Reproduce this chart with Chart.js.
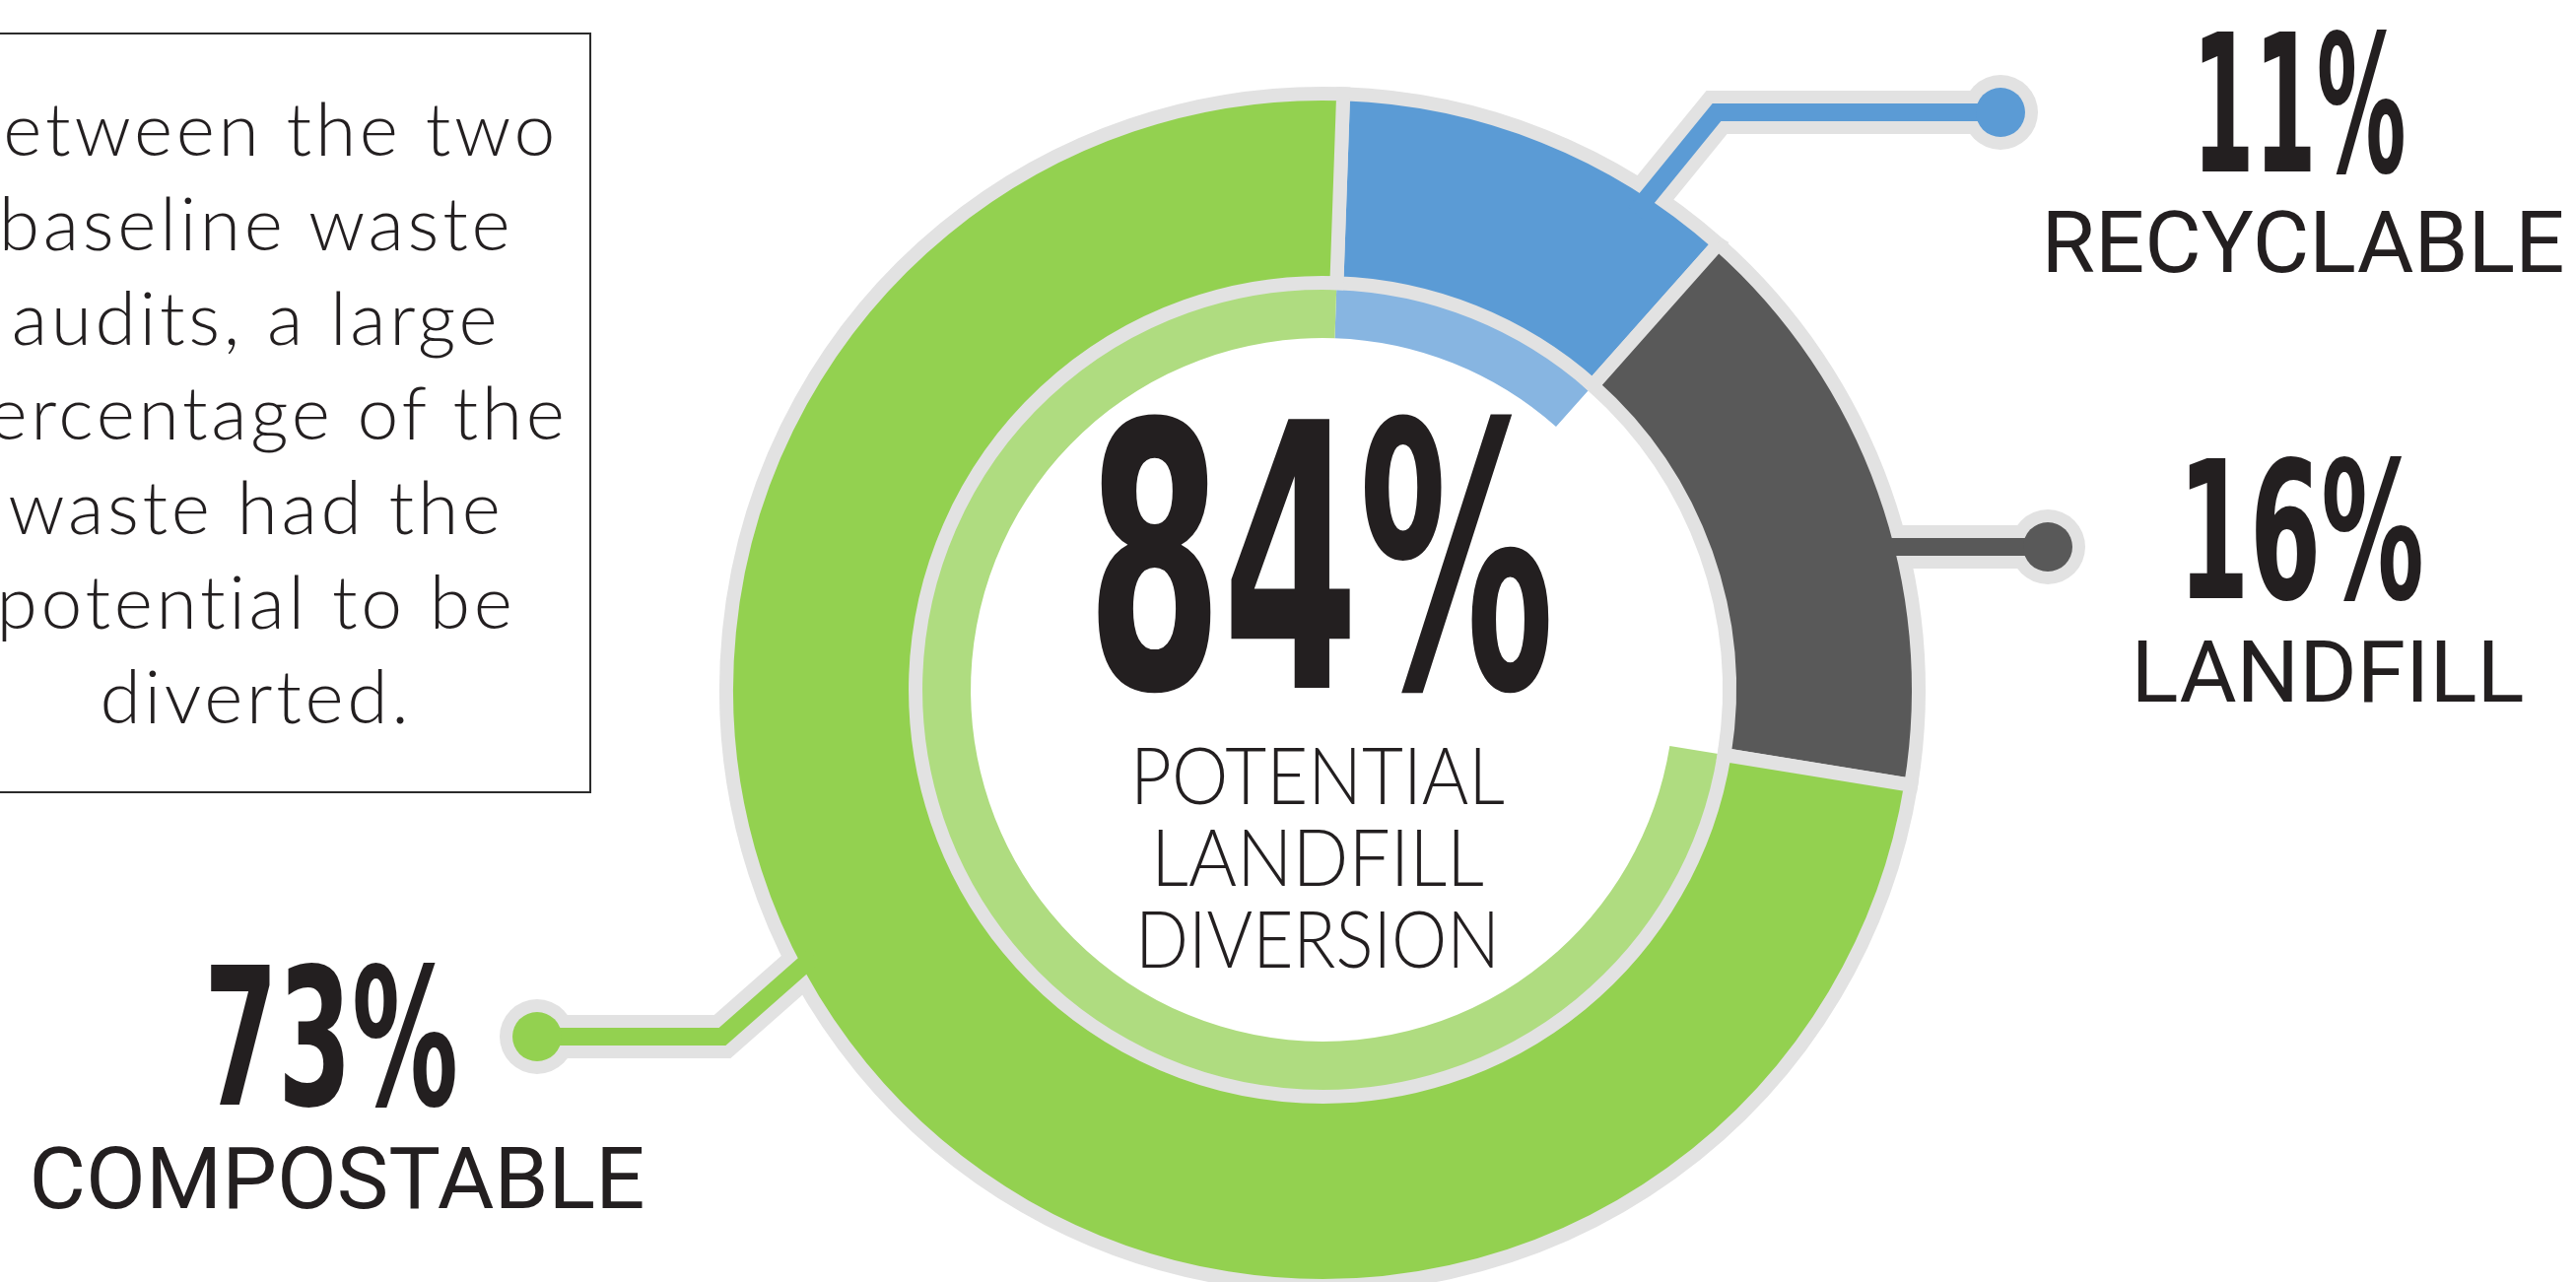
<!DOCTYPE html>
<html>
<head>
<meta charset="utf-8">
<title>Waste audit diversion</title>
<script src="https://cdn.jsdelivr.net/npm/chart.js@4.4.1/dist/chart.umd.min.js"></script>
<style>
  html, body { margin: 0; padding: 0; background: #fff; }
  body { width: 2614px; height: 1301px; position: relative; overflow: hidden; color: #231f20; }
  #chartBox { position: absolute; left: 0; top: 0; width: 2614px; height: 1301px; }
  .txt { position: absolute; width: 2000px; text-align: center; white-space: nowrap; transform-origin: 50% 50%; }
  #noteBox { position: absolute; left: -80px; top: 33px; width: 676px; height: 768px; border: 2px solid #2b2b2b; }
</style>
</head>
<body>
<div id="noteBox"></div>
<div id="chartBox"><canvas id="wasteChart"></canvas></div>

<script>
const categories = ["RECYCLABLE", "LANDFILL", "COMPOSTABLE"];
const wasteShares = [11, 16, 73];
const ringColors = ["#5b9bd5", "#595959", "#93d150"];
const innerColors = ["#87b5e1", "rgba(0,0,0,0)", "#afdc80"];
const centerLines = ["POTENTIAL", "LANDFILL", "DIVERSION"];
const noteLines = [
  "Between the two",
  "baseline waste",
  "audits, a large",
  "percentage of the",
  "waste had the",
  "potential to be",
  "diverted.",
];

const outlineGrey = "#e2e2e2";
const bigFont = "'Liberation Sans Narrow', 'DejaVu Sans Condensed', 'DejaVu Sans', sans-serif";
const labelFont = "Roboto, 'Liberation Sans', sans-serif";
const lightFont = "Lato, 'Open Sans', sans-serif";

// callout elbows, relative to the doughnut centre
const calloutPaths = [
  [[317, -484], [400, -586], [688, -586]],
  [[558, -145], [736, -145]],
  [[-516, 270], [-609, 352], [-797, 352]],
];

function drawCallouts(chart, color, lineWidth, dotRadius) {
  const arc = chart.getDatasetMeta(0).data[0];
  const ctx = chart.ctx;
  calloutPaths.forEach((pts, i) => {
    const c = color || ringColors[i];
    ctx.save();
    ctx.strokeStyle = c;
    ctx.fillStyle = c;
    ctx.lineWidth = lineWidth;
    ctx.lineJoin = "miter";
    ctx.beginPath();
    pts.forEach(([dx, dy], k) => {
      if (k === 0) ctx.moveTo(arc.x + dx, arc.y + dy);
      else ctx.lineTo(arc.x + dx, arc.y + dy);
    });
    ctx.stroke();
    const [ex, ey] = pts[pts.length - 1];
    ctx.beginPath();
    ctx.arc(arc.x + ex, arc.y + ey, dotRadius, 0, Math.PI * 2);
    ctx.fill();
    ctx.restore();
  });
}

const calloutPlugin = {
  id: "callouts",
  beforeDatasetsDraw(chart) {
    drawCallouts(chart, outlineGrey, 44, 38);
  },
  afterDatasetsDraw(chart) {
    drawCallouts(chart, null, 18, 25);
  },
};

new Chart(document.getElementById("wasteChart"), {
  type: "doughnut",
  data: {
    labels: categories,
    datasets: [
      {
        data: wasteShares,
        backgroundColor: ringColors,
        borderColor: outlineGrey,
        borderWidth: 14,
        borderJoinStyle: "miter",
        hoverOffset: 0,
        weight: 192,
      },
      {
        data: wasteShares,
        backgroundColor: innerColors,
        borderWidth: 0,
        hoverOffset: 0,
        weight: 56,
      },
    ],
  },
  options: {
    responsive: true,
    maintainAspectRatio: false,
    animation: false,
    devicePixelRatio: 1,
    events: [],
    radius: 605,
    cutout: "59%",
    rotation: 2,
    layout: { padding: { left: 70, top: 99, right: 0, bottom: 0 } },
    plugins: {
      legend: { display: false },
      tooltip: { enabled: false },
    },
  },
  plugins: [calloutPlugin],
});

// ---- text ----
const meter = document.createElement("canvas").getContext("2d");

function placeText(str, o) {
  const el = document.createElement("div");
  el.className = "txt";
  el.textContent = str;
  meter.font = `${o.weight} 100px ${o.family}`;
  const size = o.cap / meter.measureText("H").actualBoundingBoxAscent * 100;
  meter.font = `${o.weight} ${size}px ${o.family}`;
  const m = meter.measureText(str);
  const A = m.fontBoundingBoxAscent, D = m.fontBoundingBoxDescent;
  const sx = o.width ? o.width / m.width : 1;
  el.style.font = `${o.weight} ${size}px ${o.family}`;
  el.style.lineHeight = size + "px";
  el.style.left = (o.cx - 1000) + "px";
  el.style.top = (o.base - (size / 2 + (A - D) / 2)) + "px";
  el.style.transform = `scaleX(${sx})`;
  document.body.appendChild(el);
}

// centre figure: recyclable + compostable
const diverted = wasteShares[0] + wasteShares[2];
placeText(diverted + "%", { family: bigFont, weight: "bold", cx: 1340, base: 698, cap: 273, width: 475 });

const captionBase = [817, 900, 983];
const captionWidth = [380, 338, 370];
centerLines.forEach((line, i) => {
  placeText(line, { family: lightFont, weight: 300, cx: 1337, base: captionBase[i], cap: 58, width: captionWidth[i] });
});

const valueSpots = [
  { cx: 2333, base: 175, width: 217 },
  { cx: 2335, base: 608, width: 250 },
  { cx: 336, base: 1122, width: 258 },
];
const nameSpots = [
  { cx: 2337, base: 277, width: 531 },
  { cx: 2362, base: 713, width: 399 },
  { cx: 342, base: 1227, width: 625 },
];
categories.forEach((name, i) => {
  placeText(wasteShares[i] + "%", { family: bigFont, weight: "bold", cap: 142, ...valueSpots[i] });
  placeText(name, { family: labelFont, weight: 400, cap: 63, ...nameSpots[i] });
});

// note box text
(function () {
  const size = 75, pitch = 96, firstBase = 158, cx = 260;
  meter.font = `300 ${size}px ${lightFont}`;
  const probe = meter.measureText("diverted.");
  const spacing = (317 - probe.width) / 9;
  const A = probe.fontBoundingBoxAscent, D = probe.fontBoundingBoxDescent;
  const el = document.createElement("div");
  el.className = "txt";
  el.style.font = `300 ${size}px ${lightFont}`;
  el.style.lineHeight = pitch + "px";
  el.style.letterSpacing = spacing + "px";
  el.style.left = (cx - 1000) + "px";
  el.style.top = (firstBase - (pitch / 2 + (A - D) / 2)) + "px";
  el.innerHTML = noteLines.join("<br>");
  document.body.appendChild(el);
})();
</script>
</body>
</html>
